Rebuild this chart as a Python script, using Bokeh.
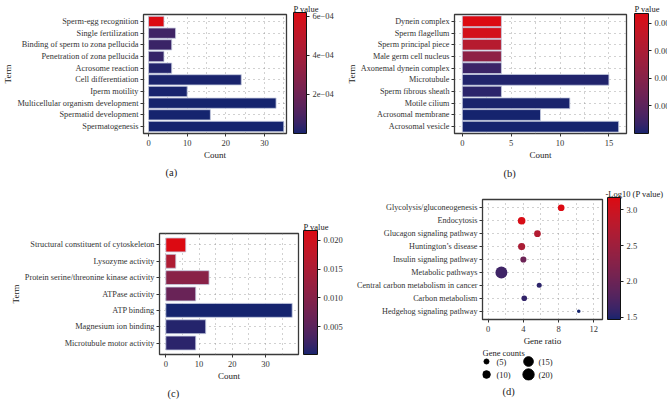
from bokeh.plotting import figure
from bokeh.models import (ColumnDataSource, FactorRange, Range1d, LinearColorMapper, ColorBar,
                          FixedTicker, PrintfTickFormatter, CustomJSTickFormatter, Title, Label)
from bokeh.layouts import row, column
from bokeh.core.properties import value
from bokeh.embed import file_html
from bokeh.resources import INLINE

# ---------------- data ----------------
a_terms = ["Sperm-egg recognition", "Single fertilization", "Binding of sperm to zona pellucida",
           "Penetration of zona pellucida", "Acrosome reaction", "Cell differentiation",
           "Iperm motility", "Multicellular organism development", "Spermatid development",
           "Spermatogenesis"]
a_counts = [4, 7, 6, 4, 6, 24, 10, 33, 16, 35]
a_pvals = [6.2e-4, 0.7e-4, 0.55e-4, 0.45e-4, 1.5e-5, 5e-6, 4e-6, 2e-6, 1e-6, 1e-8]

b_terms = ["Dynein complex", "Sperm flagellum", "Sperm principal piece", "Male germ cell nucleus",
           "Axonemal dynein complex", "Microtubule", "Sperm fibrous sheath", "Motile cilium",
           "Acrosomal membrane", "Acrosomal vesicle"]
b_counts = [4, 4, 4, 4, 4, 15, 4, 11, 8, 16]
b_pvals = [0.00436, 0.0041, 0.0033, 0.0022, 0.0004, 1e-4, 2e-4, 5e-5, 1e-5, 1e-6]

c_terms = ["Structural constituent of cytoskeleton", "Lysozyme activity",
           "Protein serine/threonine kinase activity", "ATPase activity", "ATP binding",
           "Magnesium ion binding", "Microtubule motor activity"]
c_counts = [6, 3, 13, 9, 38, 12, 9]
c_pvals = [0.0217, 0.0155, 0.0105, 0.0065, 0.0002, 0.0008, 0.0012]

d_terms = ["Glycolysis/gluconeogenesis", "Endocytosis", "Glucagon signaling pathway",
           "Huntington\u2019s disease", "Insulin signaling pathway", "Metabolic pathways",
           "Central carbon metabolism in cancer", "Carbon metabolism", "Hedgehog signaling pathway"]
d_ratio = [8.3, 3.8, 5.6, 3.8, 4.0, 1.5, 5.8, 4.1, 10.3]
d_counts = [8, 10, 8, 9, 7, 22, 5, 6, 3]
d_nlp = [3.17, 3.12, 2.72, 2.62, 2.0, 1.65, 1.55, 1.58, 1.47]
legend_counts = [5, 10, 15, 20]

a_ticks, a_minor = [0, 10, 20, 30], [5, 15, 25, 35]
b_ticks, b_minor = [0, 5, 10, 15], [2.5, 7.5, 12.5]
c_ticks, c_minor = [0, 10, 20, 30], [5, 15, 25, 35]
d_ticks, d_minor = [0, 4, 8, 12], [2, 6, 10]
a_cb_ticks = [2e-4, 4e-4, 6e-4]
b_cb_ticks = [0.001, 0.002, 0.003, 0.004]
c_cb_ticks = [0.005, 0.010, 0.015, 0.020]
d_cb_ticks = [1.5, 2.0, 2.5, 3.0]

# ---------------- palette (Lab interpolation navy -> red) ----------------
def _lin(c):
    c = c / 255.0
    return c / 12.92 if c <= 0.04045 else ((c + 0.055) / 1.055) ** 2.4

def _delin(c):
    c = max(0.0, min(1.0, c))
    v = 12.92 * c if c <= 0.0031308 else 1.055 * c ** (1 / 2.4) - 0.055
    return max(0, min(255, int(round(v * 255))))

def _f(t):
    return t ** (1 / 3) if t > 0.008856 else 7.787 * t + 16 / 116

def _finv(t):
    return t ** 3 if t ** 3 > 0.008856 else (t - 16 / 116) / 7.787

def hex2lab(h):
    r, g, b = [_lin(int(h[i:i + 2], 16)) for i in (1, 3, 5)]
    X = (0.4124 * r + 0.3576 * g + 0.1805 * b) / 0.95047
    Y = 0.2126 * r + 0.7152 * g + 0.0722 * b
    Z = (0.0193 * r + 0.1192 * g + 0.9505 * b) / 1.08883
    fx, fy, fz = _f(X), _f(Y), _f(Z)
    return 116 * fy - 16, 500 * (fx - fy), 200 * (fy - fz)

def lab2hex(L, A, B):
    fy = (L + 16) / 116
    fx = fy + A / 500
    fz = fy - B / 200
    X, Y, Z = _finv(fx) * 0.95047, _finv(fy), _finv(fz) * 1.08883
    r = 3.2406 * X - 1.5372 * Y - 0.4986 * Z
    g = -0.9689 * X + 1.8758 * Y + 0.0415 * Z
    b = 0.0557 * X - 0.2040 * Y + 1.0570 * Z
    return "#%02x%02x%02x" % (_delin(r), _delin(g), _delin(b))

LOW, HIGH = "#15246e", "#dc0a12"
l0, l1 = hex2lab(LOW), hex2lab(HIGH)
PAL = [lab2hex(*[l0[k] + (l1[k] - l0[k]) * i / 255 for k in range(3)]) for i in range(256)]

FONT = "Liberation Serif"
GRID = "#8c8c8c"


def style_axes(p, label_size):
    for ax in (p.xaxis[0], p.yaxis[0]):
        ax.axis_line_color = None
        ax.major_tick_line_color = "#333333"
        ax.major_tick_out = 3
        ax.major_tick_in = 0
        ax.minor_tick_line_color = None
        ax.major_label_text_font = FONT
        ax.major_label_text_color = "#333333"
        ax.major_label_standoff = 2
        ax.axis_label_text_font = FONT
        ax.axis_label_text_font_style = "normal"
        ax.axis_label_text_font_size = "9px"
        ax.axis_label_text_color = "#222222"
        ax.axis_label_standoff = 1
    p.yaxis[0].major_label_text_font_size = label_size
    p.xaxis[0].major_label_text_font_size = "8.5px"
    for g in (p.xgrid[0], p.ygrid[0]):
        g.grid_line_color = GRID
        g.grid_line_dash = "1 4"
        g.grid_line_width = 0.8
    p.xgrid[0].minor_grid_line_color = GRID
    p.xgrid[0].minor_grid_line_dash = "1 4"
    p.xgrid[0].minor_grid_line_width = 0.8
    p.outline_line_color = "#3a3a3a"
    p.outline_line_width = 1.3


def add_colorbar(p, mapper, ticks, fmt, title, fw, fh, gap, bw, t_align, t_off, t_stand):
    cb = ColorBar(color_mapper=mapper, ticker=FixedTicker(ticks=ticks), formatter=fmt,
                  width=bw, height=fh, location=(fw + gap, 0), padding=0, margin=0,
                  major_label_text_font=FONT, major_label_text_font_size="8.5px",
                  major_label_text_color="#333333", label_standoff=3,
                  major_tick_line_color="#222222", major_tick_in=0, major_tick_out=3,
                  bar_line_color="#111111", bar_line_width=1,
                  background_fill_alpha=0, border_line_color=None)
    p.add_layout(cb)
    p.add_layout(Title(text=title, align=t_align, offset=t_off, standoff=t_stand,
                       text_font=FONT, text_font_size="8.5px", text_font_style="normal",
                       text_color="#222222"), "above")


def add_caption(p, text, offset, standoff):
    p.add_layout(Title(text=text, align="left", offset=offset, standoff=standoff,
                       text_font=FONT, text_font_size="10.5px", text_font_style="normal",
                       text_color="#222222"), "below")


def bar_panel(terms, counts, pvals, W, H, fl, fw, ft, fh, xr, ticks, minor, pad, bh,
              cb_ticks, cb_fmt, gap, bw, t_stand, caption, cap_off, cap_stand, label_size):
    p = figure(width=W, height=H, title=None, output_backend="svg", toolbar_location=None,
               y_range=FactorRange(factors=list(reversed(terms)), range_padding=pad,
                                   range_padding_units="absolute"),
               x_range=Range1d(*xr),
               min_border_left=fl, min_border_right=W - fl - fw,
               min_border_top=ft, min_border_bottom=H - ft - fh)
    mapper = LinearColorMapper(palette=PAL, low=min(pvals), high=max(pvals))
    src = ColumnDataSource(dict(term=terms, count=counts, p=pvals))
    p.hbar(y="term", left=0, right="count", height=bh, source=src,
           fill_color={"field": "p", "transform": mapper},
           line_color="#c5cbe0", line_width=0.8)
    p.xaxis.ticker = FixedTicker(ticks=ticks, minor_ticks=minor)
    p.xaxis.axis_label = "Count"
    p.yaxis.axis_label = "Term"
    style_axes(p, label_size)
    add_colorbar(p, mapper, cb_ticks, cb_fmt, "P value", fw, fh, gap, bw,
                 "left", fw + gap, t_stand)
    add_caption(p, caption, cap_off, cap_stand)
    return p


exp_fmt = CustomJSTickFormatter(code="return tick.toExponential(0).replace('e-', 'e\u22120');")
pa = bar_panel(a_terms, a_counts, a_pvals, 343, 184, 143, 143, 13, 121, (-1.3, 35.7),
               a_ticks, a_minor, 0.1, 0.88, a_cb_ticks, exp_fmt, 7, 13, 2,
               "(a)", 22, 5, "8.3px")
pb = bar_panel(b_terms, b_counts, b_pvals, 324, 184, 108, 175, 13, 120, (-0.8, 16.8),
               b_ticks, b_minor, 0.08, 0.92, b_cb_ticks, PrintfTickFormatter(format="%.3f"),
               5, 14, 2, "(b)", 49, 6, "8.2px")
pc = bar_panel(c_terms, c_counts, c_pvals, 345, 216, 159, 139, 49, 124, (-1.9, 39.9),
               c_ticks, c_minor, 0.2, 0.85, c_cb_ticks, PrintfTickFormatter(format="%.3f"),
               5, 14, 3, "(c)", 8, 4, "8.3px")

# ---------------- panel d ----------------
def dot_size(c):
    return 2.82 * c ** 0.5 - 1.3

d_pad = 0.14
d_xr = (-0.65, 13.0)
pd_main = figure(width=322, height=164, title=None, output_backend="svg", toolbar_location=None,
                 y_range=FactorRange(factors=list(reversed(d_terms)), range_padding=d_pad,
                                     range_padding_units="absolute"),
                 x_range=Range1d(*d_xr),
                 min_border_left=137, min_border_right=322 - 137 - 120,
                 min_border_top=15, min_border_bottom=164 - 15 - 122)
d_mapper = LinearColorMapper(palette=PAL, low=min(d_nlp), high=max(d_nlp))
d_src = ColumnDataSource(dict(term=d_terms, ratio=d_ratio, count=d_counts, nlp=d_nlp,
                              sz=[dot_size(c) for c in d_counts]))
pd_main.scatter(x="ratio", y="term", size="sz", source=d_src,
                fill_color={"field": "nlp", "transform": d_mapper}, line_color=None)
pd_main.xaxis.ticker = FixedTicker(ticks=d_ticks, minor_ticks=d_minor)
pd_main.xaxis.axis_label = "Gene ratio"
style_axes(pd_main, "8.2px")
add_colorbar(pd_main, d_mapper, d_cb_ticks, PrintfTickFormatter(format="%.1f"),
             "-Log10 (P value)", 120, 122, 5, 13, "right", -61, 1)

# size legend (keys laid out in a 2 x 2 grid by index)
lg_x = [i // 2 for i in range(len(legend_counts))]
lg_y = [1 - i % 2 for i in range(len(legend_counts))]
pd_leg = figure(width=322, height=52, title=None, output_backend="svg", toolbar_location=None,
                x_axis_type=None, y_axis_type=None,
                x_range=Range1d(-0.095, 2.76), y_range=Range1d(-0.46, 2.0),
                min_border_left=137, min_border_right=322 - 137 - 120,
                min_border_top=0, min_border_bottom=20)
pd_leg.outline_line_color = None
l_src = ColumnDataSource(dict(x=lg_x, y=lg_y, sz=[dot_size(c) for c in legend_counts],
                              lab=["(%d)" % c for c in legend_counts]))
pd_leg.scatter(x="x", y="y", size="sz", source=l_src, color="black")
pd_leg.text(x="x", y="y", text="lab", source=l_src, x_offset=10, text_align="left",
            text_baseline="middle", text_font=value(FONT), text_font_size="8.5px",
            text_color="#222222")
pd_leg.add_layout(Label(x=0, y=1.69, x_offset=-4, text="Gene counts", text_align="left",
                        text_baseline="middle", text_font=FONT, text_font_size="8.5px",
                        text_color="#222222"))
add_caption(pd_leg, "(d)", 20, 7)

layout = column(row(pa, pb), row(pc, column(pd_main, pd_leg)))

open("out.html", "w").write(file_html(layout, INLINE))
